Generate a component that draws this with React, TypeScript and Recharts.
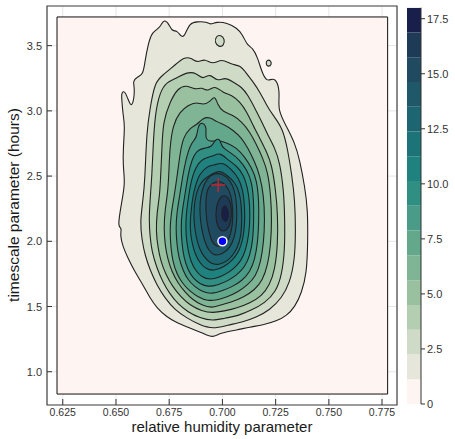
import {
  ScatterChart,
  Scatter,
  XAxis,
  YAxis,
  CartesianGrid,
  ReferenceArea,
  BarChart,
  Bar,
} from 'recharts';

type Pt = [number, number];

const xTicks = [0.625, 0.65, 0.675, 0.7, 0.725, 0.75, 0.775];
const yTicks = [1.0, 1.5, 2.0, 2.5, 3.0, 3.5];
const xDomain = [0.6176, 0.782];
const yDomain = [0.745, 3.804];
const dataBox = { x1: 0.6223, x2: 0.7776, y1: 0.829, y2: 3.72 };

const colorTicks = [0, 2.5, 5, 7.5, 10, 12.5, 15, 17.5];
const bandLevels = [0, 1.125, 2.25, 3.375, 4.5, 5.625, 6.75, 7.875, 9, 10.125, 11.25, 12.375, 13.5, 14.625, 15.75, 16.875, 18];
const bandColors = [
  '#fef5f2', '#e6e6da', '#cfdbc6', '#b4ceb1', '#99c19f', '#7fb494', '#64a88c', '#4a9b87',
  '#2f8f83', '#1f827f', '#1c7479', '#1d6671', '#1f5868', '#1f4a5f', '#1d3b56', '#181f4a',
];

// contour levels, outermost first (relative humidity, timescale)
const level1: Pt[] = [
  [0.6534, 2.713], [0.6542, 2.892], [0.6533, 2.969], [0.6527, 3.09], [0.6526, 3.13], [0.6533, 3.152],
  [0.6545, 3.14], [0.6556, 3.09], [0.6566, 3.055], [0.6572, 3.043], [0.658, 3.06], [0.6587, 3.13],
  [0.6585, 3.2], [0.658, 3.224], [0.6599, 3.262], [0.6627, 3.275], [0.6636, 3.377],
  [0.665, 3.505], [0.6669, 3.607], [0.6706, 3.633], [0.6721, 3.697], [0.6744, 3.684], [0.6763, 3.607],
  [0.6786, 3.62], [0.681, 3.559], [0.6824, 3.582], [0.6847, 3.674], [0.688, 3.684], [0.6927, 3.684],
  [0.6941, 3.659], [0.6974, 3.684], [0.7021, 3.674], [0.7068, 3.636], [0.7096, 3.582], [0.7115, 3.505],
  [0.7143, 3.482], [0.7166, 3.406], [0.7185, 3.298], [0.7208, 3.222], [0.7236, 3.252], [0.726, 3.222],
  [0.7269, 3.122], [0.726, 3.007], [0.7302, 2.877], [0.734, 2.754], [0.7363, 2.624], [0.7387, 2.417],
  [0.7401, 2.24], [0.7401, 1.987], [0.7396, 1.757], [0.7372, 1.604], [0.734, 1.496], [0.7302, 1.43],
  [0.7255, 1.389], [0.7189, 1.358], [0.7129, 1.343], [0.7068, 1.32], [0.6988, 1.297], [0.6955, 1.258],
  [0.6908, 1.297], [0.6847, 1.335], [0.6786, 1.374], [0.6739, 1.419], [0.6692, 1.489], [0.666, 1.565],
  [0.6627, 1.665], [0.6589, 1.765], [0.6556, 1.872], [0.6533, 1.956], [0.6519, 2.048], [0.6528, 2.102],
  [0.6509, 2.11], [0.6519, 2.225], [0.6533, 2.355], [0.6542, 2.455], [0.6533, 2.585],
];
const islandA: Pt[] = [[0.6969, 3.574], [0.6993, 3.582], [0.7011, 3.551], [0.7007, 3.498], [0.6983, 3.49], [0.6964, 3.521]];
const islandB: Pt[] = [[0.7208, 3.39], [0.7227, 3.39], [0.7232, 3.352], [0.7213, 3.337], [0.7204, 3.36]];
const level2: Pt[] = [
  [0.6636, 2.47], [0.6644, 2.841], [0.666, 3.02], [0.6683, 3.224], [0.6721, 3.275], [0.6777, 3.352],
  [0.6824, 3.416], [0.6855, 3.403], [0.6885, 3.367], [0.6917, 3.403], [0.6955, 3.352], [0.6996, 3.403],
  [0.7043, 3.352], [0.7082, 3.352], [0.7113, 3.288], [0.7143, 3.224], [0.7175, 3.147], [0.7207, 3.045],
  [0.7236, 2.969], [0.7283, 2.869], [0.7307, 2.7], [0.7326, 2.508], [0.734, 2.317], [0.7344, 2.087],
  [0.734, 1.857], [0.7316, 1.68], [0.7279, 1.565], [0.7222, 1.473], [0.7161, 1.419], [0.7096, 1.381],
  [0.7025, 1.358], [0.6955, 1.327], [0.6894, 1.358], [0.6833, 1.412], [0.6777, 1.473], [0.673, 1.565],
  [0.6692, 1.665], [0.666, 1.78], [0.6636, 1.895], [0.6622, 2.01], [0.6613, 2.148], [0.6627, 2.317],
];
const level3: Pt[] = [
  [0.6674, 2.716], [0.6683, 2.969], [0.6706, 3.145], [0.6739, 3.222], [0.6786, 3.252], [0.6833, 3.298],
  [0.688, 3.291], [0.6908, 3.237], [0.6941, 3.291], [0.6974, 3.222], [0.7012, 3.26], [0.7049, 3.222],
  [0.7091, 3.183], [0.7119, 3.122], [0.7152, 3.022], [0.7185, 2.915], [0.7213, 2.815], [0.7246, 2.716],
  [0.7269, 2.608], [0.7288, 2.393], [0.7293, 2.163], [0.7293, 1.933], [0.7279, 1.742], [0.7251, 1.611],
  [0.7199, 1.527], [0.7138, 1.473], [0.7072, 1.427], [0.7011, 1.412], [0.6955, 1.389], [0.6894, 1.412],
  [0.6838, 1.458], [0.6791, 1.519], [0.6753, 1.596], [0.672, 1.688], [0.6692, 1.795], [0.6669, 1.918],
  [0.666, 2.033], [0.6655, 2.163], [0.666, 2.317], [0.6669, 2.508],
];
const level4: Pt[] = [
  [0.6716, 2.716], [0.6721, 2.915], [0.6753, 3.068], [0.6791, 3.176], [0.6833, 3.199], [0.6871, 3.16],
  [0.6903, 3.183], [0.6932, 3.145], [0.6964, 3.199], [0.7002, 3.137], [0.7044, 3.122], [0.7082, 3.068],
  [0.7115, 2.992], [0.7143, 2.892], [0.7175, 2.792], [0.7208, 2.685], [0.7232, 2.585], [0.725, 2.393],
  [0.726, 2.202], [0.726, 1.972], [0.7246, 1.78], [0.7222, 1.665], [0.7185, 1.58], [0.7129, 1.527],
  [0.7068, 1.488], [0.7007, 1.465], [0.6955, 1.45], [0.6903, 1.465], [0.6847, 1.511], [0.6805, 1.573],
  [0.6767, 1.65], [0.6735, 1.742], [0.6711, 1.841], [0.6697, 1.956], [0.6688, 2.071], [0.6692, 2.217],
  [0.6706, 2.355], [0.6711, 2.547],
];
const level5: Pt[] = [
  [0.6753, 2.716], [0.6767, 2.892], [0.68, 2.992], [0.6838, 3.045], [0.688, 3.068], [0.6908, 3.045],
  [0.6941, 3.068], [0.6964, 3.122], [0.6978, 3.045], [0.7002, 2.992], [0.7049, 2.969], [0.7091, 2.915],
  [0.7129, 2.838], [0.7161, 2.738], [0.7189, 2.639], [0.7213, 2.532], [0.7227, 2.355], [0.7232, 2.163],
  [0.7227, 1.972], [0.7213, 1.818], [0.7189, 1.703], [0.7152, 1.627], [0.71, 1.573], [0.7044, 1.535],
  [0.6988, 1.511], [0.695, 1.488], [0.6903, 1.511], [0.6861, 1.55], [0.6824, 1.611], [0.6791, 1.68],
  [0.6763, 1.765], [0.6744, 1.857], [0.673, 1.972], [0.6725, 2.102], [0.673, 2.24], [0.6744, 2.378],
  [0.6749, 2.547],
];
const level6: Pt[] = [
  [0.68, 2.662], [0.6814, 2.792], [0.6847, 2.869], [0.688, 2.892], [0.6908, 2.946], [0.6941, 2.953],
  [0.6974, 2.915], [0.7011, 2.892], [0.7049, 2.853], [0.7091, 2.792], [0.7119, 2.716], [0.7152, 2.608],
  [0.7175, 2.508], [0.7194, 2.355], [0.7199, 2.163], [0.7194, 1.995], [0.718, 1.841], [0.7157, 1.734],
  [0.7119, 1.665], [0.7072, 1.611], [0.7021, 1.573], [0.6974, 1.55], [0.6932, 1.542], [0.6885, 1.573],
  [0.6847, 1.619], [0.6814, 1.673], [0.6786, 1.749], [0.6767, 1.841], [0.6758, 1.949], [0.6753, 2.071],
  [0.6758, 2.202], [0.6772, 2.332], [0.6786, 2.485],
];
const level7: Pt[] = [
  [0.6833, 2.662], [0.6856, 2.761], [0.688, 2.792], [0.6885, 2.892], [0.6908, 2.915], [0.6927, 2.869],
  [0.6918, 2.792], [0.6941, 2.761], [0.6979, 2.777], [0.7021, 2.754], [0.7068, 2.716], [0.7105, 2.646],
  [0.7138, 2.562], [0.7161, 2.47], [0.7171, 2.317], [0.7171, 2.148], [0.7166, 1.995], [0.7152, 1.857],
  [0.7129, 1.765], [0.7091, 1.696], [0.7044, 1.65], [0.6997, 1.619], [0.695, 1.596], [0.6908, 1.611],
  [0.6871, 1.65], [0.6838, 1.703], [0.6814, 1.78], [0.6795, 1.872], [0.6786, 1.979], [0.6781, 2.102],
  [0.6786, 2.225], [0.68, 2.355], [0.6814, 2.508],
];
const level8: Pt[] = [
  [0.6856, 2.624], [0.688, 2.7], [0.6918, 2.716], [0.695, 2.723], [0.6964, 2.777], [0.6988, 2.792],
  [0.6997, 2.716], [0.7035, 2.685], [0.7082, 2.624], [0.7115, 2.547], [0.7138, 2.455], [0.7147, 2.317],
  [0.7147, 2.148], [0.7143, 2.01], [0.7129, 1.887], [0.7105, 1.803], [0.7068, 1.742], [0.7025, 1.696],
  [0.6978, 1.665], [0.6932, 1.65], [0.6894, 1.673], [0.6861, 1.719], [0.6838, 1.78], [0.6819, 1.872],
  [0.681, 1.979], [0.6805, 2.102], [0.681, 2.225], [0.6824, 2.355], [0.6838, 2.508],
];
const level9: Pt[] = [
  [0.6871, 2.562], [0.6908, 2.639], [0.695, 2.647], [0.6988, 2.685], [0.7025, 2.624], [0.7068, 2.577],
  [0.71, 2.508], [0.7119, 2.409], [0.7129, 2.278], [0.7129, 2.125], [0.7119, 1.995], [0.71, 1.887],
  [0.7072, 1.818], [0.7035, 1.765], [0.6988, 1.726], [0.6941, 1.703], [0.6903, 1.726], [0.6875, 1.772],
  [0.6852, 1.841], [0.6838, 1.933], [0.6828, 2.048], [0.6828, 2.179], [0.6838, 2.317], [0.6852, 2.455],
];
const level10: Pt[] = [
  [0.689, 2.508], [0.6927, 2.577], [0.6964, 2.585], [0.7002, 2.608], [0.7044, 2.547], [0.7077, 2.485],
  [0.7096, 2.393], [0.7105, 2.271], [0.7105, 2.125], [0.7096, 2.01], [0.7077, 1.918], [0.7049, 1.857],
  [0.7007, 1.803], [0.696, 1.772], [0.6922, 1.788], [0.6894, 1.834], [0.6871, 1.903], [0.6856, 1.995],
  [0.6847, 2.102], [0.6852, 2.225], [0.6861, 2.347], [0.6875, 2.439],
];
const level11: Pt[] = [
  [0.6908, 2.47], [0.695, 2.516], [0.6988, 2.547], [0.7025, 2.501], [0.7058, 2.455], [0.7082, 2.37],
  [0.7091, 2.24], [0.7091, 2.102], [0.7082, 1.995], [0.7058, 1.91], [0.7025, 1.849], [0.6983, 1.818],
  [0.6946, 1.826], [0.6913, 1.88], [0.689, 1.949], [0.6875, 2.041], [0.6866, 2.148], [0.6866, 2.255],
  [0.6875, 2.355], [0.689, 2.424],
];
const level12: Pt[] = [
  [0.6927, 2.485], [0.6964, 2.524], [0.7002, 2.516], [0.7035, 2.47], [0.7058, 2.393], [0.7068, 2.278],
  [0.7068, 2.148], [0.7058, 2.033], [0.7035, 1.949], [0.7002, 1.903], [0.6964, 1.887], [0.6936, 1.926],
  [0.6917, 1.995], [0.6903, 2.087], [0.6894, 2.194], [0.6894, 2.301], [0.6903, 2.393],
];
const level13: Pt[] = [
  [0.6941, 2.432], [0.6979, 2.47], [0.7016, 2.439], [0.704, 2.363], [0.7049, 2.255], [0.7049, 2.133],
  [0.7035, 2.025], [0.7007, 1.964], [0.6969, 1.956], [0.6946, 2.01], [0.6932, 2.102], [0.6922, 2.209],
  [0.6922, 2.317], [0.6927, 2.386],
];
const level14: Pt[] = [
  [0.6988, 2.347], [0.7021, 2.355], [0.704, 2.294], [0.7044, 2.202], [0.7035, 2.117], [0.7011, 2.071],
  [0.6983, 2.087], [0.6969, 2.163], [0.6969, 2.255],
];
const level15: Pt[] = [
  [0.7007, 2.286], [0.7025, 2.255], [0.703, 2.194], [0.7021, 2.148], [0.7002, 2.156], [0.6993, 2.217],
];

const contours: { pts: Pt[]; color: string }[] = [
  { pts: level1, color: bandColors[1] },
  { pts: islandA, color: bandColors[2] },
  { pts: islandB, color: bandColors[2] },
  { pts: level2, color: bandColors[2] },
  { pts: level3, color: bandColors[3] },
  { pts: level4, color: bandColors[4] },
  { pts: level5, color: bandColors[5] },
  { pts: level6, color: bandColors[6] },
  { pts: level7, color: bandColors[7] },
  { pts: level8, color: bandColors[8] },
  { pts: level9, color: bandColors[9] },
  { pts: level10, color: bandColors[10] },
  { pts: level11, color: bandColors[11] },
  { pts: level12, color: bandColors[12] },
  { pts: level13, color: bandColors[13] },
  { pts: level14, color: bandColors[14] },
  { pts: level15, color: bandColors[15] },
];

const truePoint = [{ x: 0.7, y: 2.0 }];
const estimatePoint = [{ x: 0.698, y: 2.432 }];

const font = '"Liberation Sans", Arial, sans-serif';
const axisColor = '#333';

const XTick = (props: any) => {
  const { x, y, payload } = props;
  const axisY = y - 4;
  return (
    <g>
      <line x1={x} x2={x} y1={axisY} y2={axisY - 6} stroke={axisColor} />
      <text x={x} y={axisY + 11} textAnchor="middle" fontSize={10.5} fill={axisColor}>
        {Number(payload.value).toFixed(3)}
      </text>
    </g>
  );
};

const YTick = (props: any) => {
  const { x, y, payload } = props;
  const axisX = x + 5;
  return (
    <g>
      <line x1={axisX} x2={axisX + 5} y1={y} y2={y} stroke={axisColor} />
      <text x={x} y={y + 4} textAnchor="end" fontSize={11} fill={axisColor}>
        {Number(payload.value).toFixed(1)}
      </text>
    </g>
  );
};

const Empty = () => <g />;

const Cross = (props: any) => {
  const { cx, cy } = props;
  return (
    <g stroke="#c0282d" strokeWidth={1.5}>
      <line x1={cx - 7} x2={cx + 7} y1={cy} y2={cy} />
      <line x1={cx} x2={cx} y1={cy - 7} y2={cy + 7} />
    </g>
  );
};

const Dot = (props: any) => {
  const { cx, cy } = props;
  return <circle cx={cx} cy={cy} r={4.5} fill="#0000ff" stroke="#ffffff" strokeWidth={1.5} />;
};

export default function App() {
  const barRow: Record<string, number | string> = { name: 'density' };
  bandColors.forEach((_, i) => {
    barRow[`b${i}`] = bandLevels[i + 1] - bandLevels[i];
  });

  return (
    <div style={{ position: 'absolute', left: 0, top: 0, width: 455, height: 439, background: '#fff', fontFamily: font }}>
      <div style={{ position: 'absolute', left: 0, top: 0 }}>
        <ScatterChart width={400} height={439} margin={{ top: 6, right: 3, bottom: 0, left: 0 }}>
          <CartesianGrid stroke="#e6e6e6" strokeWidth={1} />
          <XAxis
            type="number"
            dataKey="x"
            domain={xDomain}
            ticks={xTicks}
            allowDataOverflow
            height={34}
            tickSize={0}
            tickMargin={4}
            axisLine={false}
            tickLine={false}
            tick={<XTick />}
          />
          <YAxis
            type="number"
            dataKey="y"
            domain={yDomain}
            ticks={yTicks}
            allowDataOverflow
            width={47}
            tickSize={0}
            tickMargin={5}
            axisLine={false}
            tickLine={false}
            tick={<YTick />}
          />
          <ReferenceArea
            x1={xDomain[0]}
            x2={xDomain[1]}
            y1={yDomain[0]}
            y2={yDomain[1]}
            fill="none"
            fillOpacity={0}
            stroke="#444"
            strokeWidth={1.2}
            ifOverflow="visible"
          />
          <ReferenceArea
            x1={dataBox.x1}
            x2={dataBox.x2}
            y1={dataBox.y1}
            y2={dataBox.y2}
            fill={bandColors[0]}
            fillOpacity={1}
            stroke="#111"
            strokeWidth={1}
            ifOverflow="visible"
          />
          {contours.map((c, i) => (
            <Scatter
              key={`lvl-${i}`}
              data={c.pts.map(([x, y]) => ({ x, y }))}
              shape={Empty}
              line={{ stroke: '#222', strokeWidth: 1.1, fill: c.color }}
              lineJointType="basisClosed"
              isAnimationActive={false}
            />
          ))}
          <Scatter data={estimatePoint} shape={Cross} isAnimationActive={false} />
          <Scatter data={truePoint} shape={Dot} isAnimationActive={false} />
        </ScatterChart>
      </div>

      <div style={{ position: 'absolute', left: 400, top: 0 }}>
        <BarChart
          width={55}
          height={439}
          data={[barRow]}
          margin={{ top: 7.7, right: 0, bottom: 35, left: 7 }}
          barCategoryGap={0}
        >
          <XAxis dataKey="name" hide />
          <YAxis
            orientation="right"
            type="number"
            domain={[0, 18]}
            ticks={colorTicks}
            allowDataOverflow
            width={34}
            tickSize={4}
            tickMargin={2}
            stroke={axisColor}
            tick={{ fontSize: 11, fill: axisColor }}
            tickFormatter={(v: number) => (v === 0 ? '0' : v.toFixed(1))}
          />
          {bandColors.map((col, i) => (
            <Bar key={`b${i}`} dataKey={`b${i}`} stackId="cb" fill={col} isAnimationActive={false} />
          ))}
        </BarChart>
      </div>

      <svg width={455} height={439} style={{ position: 'absolute', left: 0, top: 0, pointerEvents: 'none' }}>
        <text x={222} y={432} textAnchor="middle" fontSize={15} fill="#1a1a1a" fontFamily={font}>
          relative humidity parameter
        </text>
        <text transform="translate(19,205) rotate(-90)" textAnchor="middle" fontSize={15.5} fill="#1a1a1a" fontFamily={font}>
          timescale parameter (hours)
        </text>
      </svg>
    </div>
  );
}
